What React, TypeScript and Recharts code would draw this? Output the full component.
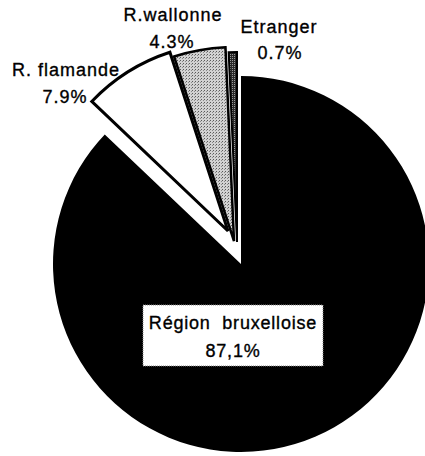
import { Cell, Pie, PieChart } from 'recharts';

const categories = ['Région bruxelloise', 'R. flamande', 'R.wallonne', 'Etranger'];
const shares = [87.1, 7.9, 4.3, 0.7];
const shareLabels = ['87,1%', '7.9%', '4.3%', '0.7%'];

const data = categories.map((name, i) => ({ name, value: shares[i] }));

// per slice look: fill, outline, how far it is pulled out, radius
const fills = ['#000000', '#ffffff', 'url(#dotsLight)', 'url(#dotsDark)'];
const strokes = ['none', '#000', '#000', '#000'];
const strokeWidths = [0, 3, 2.5, 2];
const pullOut = [
  [0, 0],
  [-13, -33],
  [-7, -23],
  [-4, -22],
];
const radii = [188, 188, 194, 190];

const CX = 241;
const CY = 264;
const FONT = '"Liberation Sans", Arial, sans-serif';

const textStyle = {
  fontFamily: FONT,
  fontSize: 18,
  letterSpacing: 1,
  fill: '#000',
  stroke: '#000',
  strokeWidth: 0.35,
};

export default function App() {
  return (
    <div style={{ position: 'relative', width: 425, height: 456, background: '#fff' }}>
      <style>{`body{margin:0}`}</style>
      <PieChart width={425} height={456} margin={{ top: 0, right: 0, bottom: 0, left: 0 }}>
        <defs>
          <pattern id="dotsLight" width="3" height="3" patternUnits="userSpaceOnUse">
            <rect width="3" height="3" fill="#d2d2d2" />
            <rect x="0" y="0" width="1" height="1" fill="#5a5a5a" />
            <rect x="2" y="1" width="1" height="1" fill="#8a8a8a" />
          </pattern>
          <pattern id="dotsDark" width="2" height="2" patternUnits="userSpaceOnUse">
            <rect width="2" height="2" fill="#2a2a2a" />
            <rect x="0" y="0" width="1" height="1" fill="#9a9a9a" />
          </pattern>
        </defs>
        {categories.map((cat, k) => (
          <Pie
            key={cat}
            data={data}
            dataKey="value"
            nameKey="name"
            cx={CX + pullOut[k][0]}
            cy={CY + pullOut[k][1]}
            innerRadius={0}
            outerRadius={radii[k]}
            startAngle={90}
            endAngle={-270}
            paddingAngle={0}
            label={false}
            labelLine={false}
            isAnimationActive={false}
          >
            {data.map((d, i) => (
              <Cell
                key={d.name}
                fill={i === k ? fills[k] : 'none'}
                stroke={i === k ? strokes[k] : 'none'}
                strokeWidth={i === k ? strokeWidths[k] : 0}
              />
            ))}
          </Pie>
        ))}
      </PieChart>
      <svg width={425} height={456} style={{ position: 'absolute', left: 0, top: 0 }}>
        <g style={textStyle} textAnchor="middle">
          <text x={66} y={76}>{categories[1]}</text>
          <text x={65} y={103}>{shareLabels[1]}</text>
          <text x={173} y={21}>{categories[2]}</text>
          <text x={172} y={48}>{shareLabels[2]}</text>
          <text x={279} y={33}>{categories[3]}</text>
          <text x={280} y={59}>{shareLabels[3]}</text>
        </g>
        <rect x={143} y={305} width={180} height={61} fill="#fff" stroke="#888" strokeWidth={1} strokeDasharray="1 1" />
        <g style={{ ...textStyle, letterSpacing: 0.8 }} textAnchor="middle">
          <text x={233} y={329} xmlSpace="preserve">{'Région  bruxelloise'}</text>
          <text x={233} y={357}>{shareLabels[0]}</text>
        </g>
      </svg>
    </div>
  );
}
